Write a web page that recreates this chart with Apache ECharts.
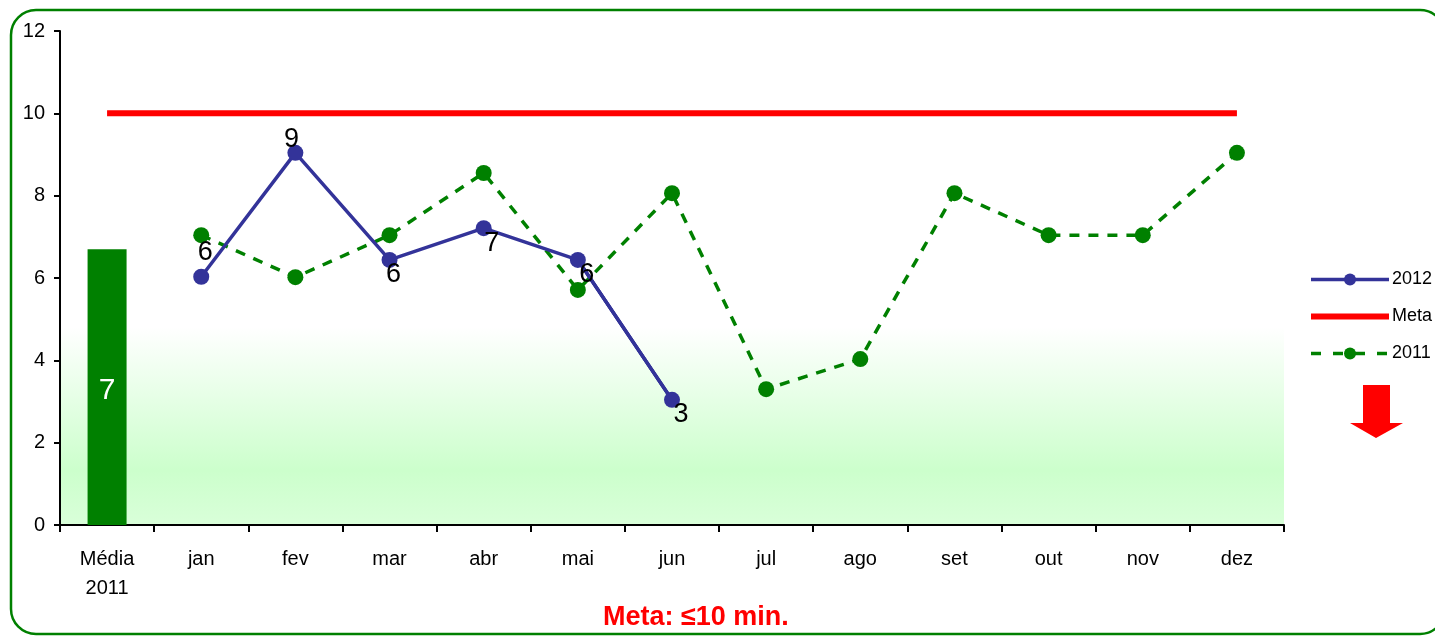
<!DOCTYPE html>
<html>
<head>
<meta charset="utf-8">
<script src="https://cdn.jsdelivr.net/npm/echarts@6/dist/echarts.min.js"></script>
<style>
  html, body { margin: 0; padding: 0; background: #ffffff; }
  #chart { width: 1435px; height: 636px; }
</style>
</head>
<body>
<div id="chart"></div>
<script>
// Categories: average of the previous year followed by the months
const categories = ['Média\n2011', 'jan', 'fev', 'mar', 'abr', 'mai', 'jun', 'jul', 'ago', 'set', 'out', 'nov', 'dez'];
// Yearly average bar (first category only)
const media2011 = [6.70, null, null, null, null, null, null, null, null, null, null, null, null];
// Monthly values
const serie2012 = [null, 6.03, 9.04, 6.44, 7.21, 6.44, 3.04, null, null, null, null, null, null];
const serie2011 = [null, 7.04, 6.02, 7.04, 8.55, 5.71, 8.06, 3.30, 4.03, 8.06, 7.04, 7.04, 9.04];
// Target line
const meta = [10, 10, 10, 10, 10, 10, 10, 10, 10, 10, 10, 10, 10];
// Last 2012 segment is drawn in a darker tone
const ultimoTrecho2012 = [null, null, null, null, null, 6.44, 3.04, null, null, null, null, null, null];
// Data label offsets for the 2012 points
const offsets2012 = [null, [4, -24], [-4, -13], [4, 15], [8, 15], [9, 15], [9, 15]];

const FONT = 'Liberation Sans, Arial, sans-serif';
const chart = echarts.init(document.getElementById('chart'));

const data2012 = serie2012.map((v, i) => v == null ? null : {
  value: v,
  label: { offset: offsets2012[i] }
});

chart.setOption({
  animation: false,
  textStyle: { fontFamily: FONT },
  title: {
    text: 'Meta: ≤10 min.',
    left: 598,
    top: 599,
    textStyle: { color: '#ff0000', fontSize: 27, fontWeight: 'bold', fontFamily: FONT }
  },
  legend: {
    orient: 'vertical',
    left: 1303,
    top: 264,
    itemWidth: 78,
    itemHeight: 15,
    itemGap: 16,
    data: [
      { name: '2012', lineStyle: { width: 3.5, color: '#333399' } },
      { name: 'Meta', itemStyle: { opacity: 0 }, lineStyle: { width: 6, color: '#ff0000' } },
      { name: '2011', lineStyle: { width: 3.5, color: '#008000', type: [10, 12] } }
    ],
    textStyle: { fontSize: 18, color: '#000', lineHeight: 21, fontFamily: FONT, padding: [0, 0, 0, -2] }
  },
  grid: {
    left: 60, right: 151, top: 31, bottom: 111,
    show: true,
    borderWidth: 0,
    backgroundColor: new echarts.graphic.LinearGradient(0, 0, 0, 1, [
      { offset: 0, color: '#ffffff' },
      { offset: 0.6, color: '#ffffff' },
      { offset: 0.89, color: '#ccffcc' },
      { offset: 1, color: '#d9ffd9' }
    ])
  },
  xAxis: {
    type: 'category',
    data: categories,
    boundaryGap: true,
    axisLine: { lineStyle: { color: '#000', width: 2 } },
    axisTick: { show: true, length: 7, lineStyle: { color: '#000', width: 2 } },
    axisLabel: { color: '#000', fontSize: 20, lineHeight: 29, margin: 20, interval: 0, fontFamily: FONT }
  },
  yAxis: {
    type: 'value',
    min: 0, max: 12, interval: 2,
    splitLine: { show: false },
    axisLine: { show: true, lineStyle: { color: '#000', width: 2 } },
    axisTick: { show: true, length: 6, lineStyle: { color: '#000', width: 2 } },
    axisLabel: { color: '#000', fontSize: 20, margin: 15, fontFamily: FONT }
  },
  series: [
    {
      name: 'Média 2011',
      type: 'bar',
      data: media2011,
      barWidth: 39,
      itemStyle: { color: '#008000' },
      label: {
        show: true, position: 'inside', offset: [0, 4], color: '#ffffff', fontSize: 30, fontFamily: FONT,
        formatter: p => Math.round(p.value)
      },
      z: 2
    },
    {
      name: 'Meta',
      type: 'line',
      data: meta,
      symbol: 'none',
      lineStyle: { color: '#ff0000', width: 6 },
      itemStyle: { color: '#ff0000' },
      z: 3
    },
    {
      name: '2011',
      type: 'line',
      data: serie2011,
      symbol: 'circle',
      symbolSize: 16,
      lineStyle: { color: '#008000', width: 3.5, type: [10, 9] },
      itemStyle: { color: '#008000' },
      z: 4
    },
    {
      name: 'trecho2012',
      type: 'line',
      data: ultimoTrecho2012,
      symbol: 'none',
      lineStyle: { color: '#000080', width: 3.5 },
      z: 5
    },
    {
      name: '2012',
      type: 'line',
      data: data2012,
      symbol: 'circle',
      symbolSize: 16,
      lineStyle: { color: '#333399', width: 3.5 },
      itemStyle: { color: '#333399' },
      label: {
        show: true, position: 'inside', color: '#000', fontSize: 27, fontFamily: FONT,
        formatter: p => Math.round(p.value)
      },
      z: 6
    }
  ],
  graphic: [
    {
      type: 'rect',
      shape: { x: 11, y: 10, width: 1434, height: 624, r: 25 },
      style: { fill: 'none', stroke: '#008000', lineWidth: 2.5 },
      silent: true, z: 100
    },
    {
      type: 'polygon',
      shape: {
        points: [[1363, 385], [1390, 385], [1390, 423], [1403, 423], [1376, 438], [1350, 423], [1363, 423]]
      },
      style: { fill: '#ff0000' },
      silent: true, z: 100
    }
  ]
});
</script>
</body>
</html>
